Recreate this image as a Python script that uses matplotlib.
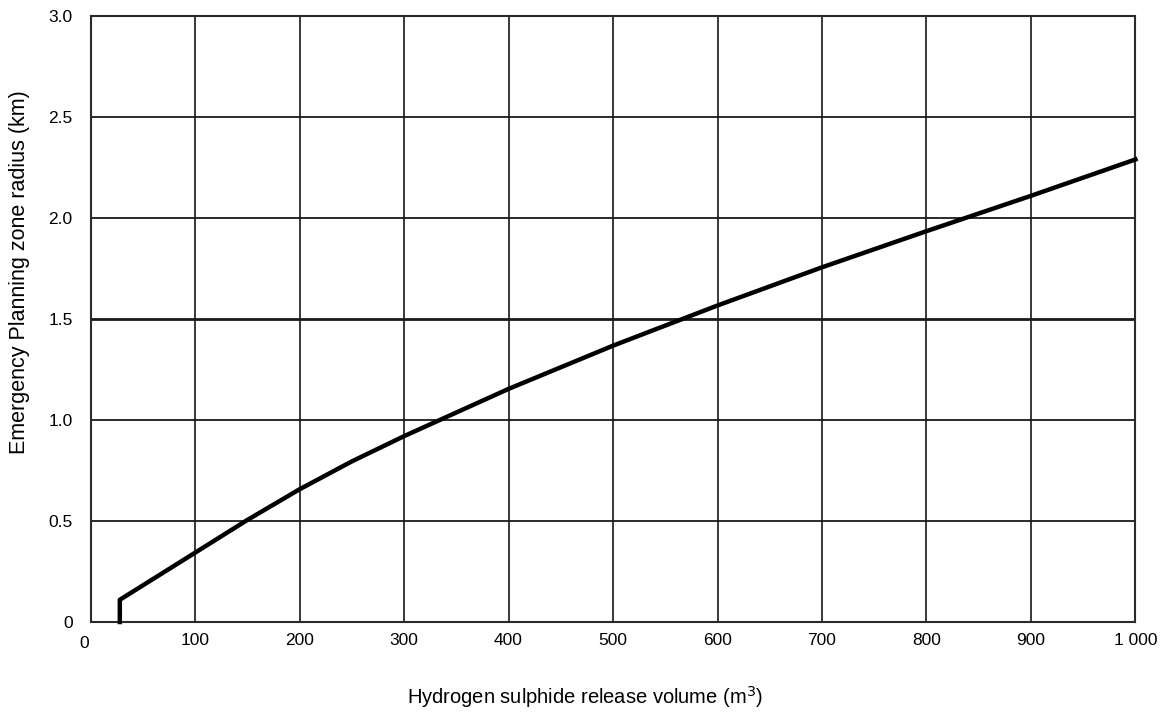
import matplotlib
matplotlib.use("Agg")
import matplotlib.pyplot as plt
import matplotlib.transforms as mtransforms

# values (volume m3 -> radius km)
volume = [28, 28, 100, 150, 200, 250, 300, 400, 500, 600, 700, 800, 900, 1000]
radius = [0.0, 0.11, 0.343, 0.505, 0.657, 0.795, 0.92, 1.154, 1.368, 1.567, 1.756, 1.935, 2.11, 2.29]

x_ticks = [0, 100, 200, 300, 400, 500, 600, 700, 800, 900, 1000]
x_labels = ['0', '100', '200', '300', '400', '500', '600', '700', '800', '900', '1 000']
y_ticks = [0, 0.5, 1.0, 1.5, 2.0, 2.5, 3.0]
y_labels = ['0', '0.5', '1.0', '1.5', '2.0', '2.5', '3.0']

plt.rcParams['font.family'] = ['Liberation Sans Narrow', 'Liberation Sans', 'DejaVu Sans']

fig = plt.figure(figsize=(11.64, 7.19), dpi=100)
ax = fig.add_axes([0.0778, 0.1349, 0.8977, 0.8428])

ax.set_xlim(0, 1000)
ax.set_ylim(0, 3.0)
ax.set_xticks(x_ticks)
ax.set_xticklabels(x_labels, fontsize=12.5)
ax.set_yticks(y_ticks)
ax.set_yticklabels(y_labels, fontsize=12.5)
ax.tick_params(axis='x', length=0, pad=8)
ax.tick_params(axis='y', length=0, pad=13)

# grid
for xv in x_ticks[1:-1]:
    ax.axvline(xv, color='#2a2a2a', lw=1.3, zorder=1)
for yv in y_ticks[1:-1]:
    ax.axhline(yv, color='#1a1a1a', lw=2.0 if yv == 1.5 else 1.3, zorder=1)
for s in ax.spines.values():
    s.set_color('#2a2a2a')
    s.set_linewidth(1.5)

# nudge the "0" on the x axis a bit left and down like the original
lbl0 = ax.get_xticklabels()[0]
lbl0.set_transform(lbl0.get_transform() + mtransforms.ScaledTranslation(-6/100, -3/100, fig.dpi_scale_trans))

ax.plot(volume, radius, color='black', lw=3.2, solid_joinstyle='round', zorder=3, clip_on=False)

fig.text(585/1164, 1 - 697/719, 'Hydrogen sulphide release volume (m$^3$)', fontsize=14.5,
         ha='center', va='center')
fig.text(20/1164, 1 - 272/719, 'Emergency Planning zone radius (km)', fontsize=15.5,
         ha='center', va='center', rotation=90)

fig.savefig('out.png', dpi=100)
